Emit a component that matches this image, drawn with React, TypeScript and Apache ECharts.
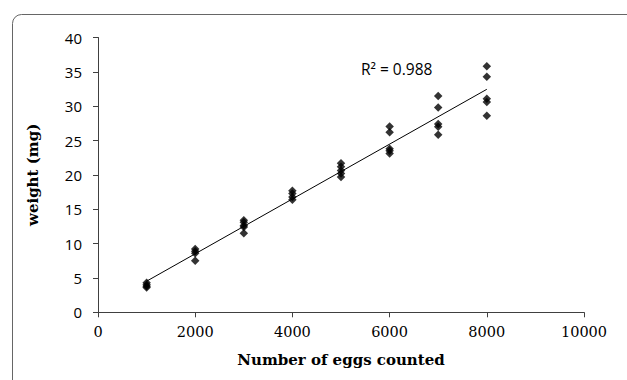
import React, { useEffect, useRef } from "react";
import * as echarts from "echarts";

const eggCounts = [1000, 2000, 3000, 4000, 5000, 6000, 7000, 8000];
const weights: number[][] = [
  [4.3, 4.0, 3.8, 3.6],
  [9.2, 8.9, 8.6, 7.5],
  [13.4, 13.1, 12.65, 12.4, 11.5],
  [17.7, 17.3, 16.8, 16.4],
  [21.7, 21.2, 20.65, 20.2, 19.7],
  [27.05, 26.2, 23.8, 23.5, 23.1],
  [31.5, 29.8, 27.4, 27.0, 25.85],
  [35.8, 34.3, 31.1, 30.6, 28.6],
];
const rSquaredLabel = "R² = 0.988";
const xTitle = "Number of eggs counted";
const yTitle = "weight (mg)";

export default function App() {
  const ref = useRef<HTMLDivElement>(null);
  useEffect(() => {
    if (!ref.current) return;
    const chart = echarts.init(ref.current, undefined, { renderer: "svg" });
    const pts: number[][] = [];
    eggCounts.forEach((x, i) => weights[i].forEach((w) => pts.push([x, w])));
    // least squares trend line
    const n = pts.length;
    const mx = pts.reduce((s, p) => s + p[0], 0) / n;
    const my = pts.reduce((s, p) => s + p[1], 0) / n;
    let sxy = 0, sxx = 0;
    pts.forEach((p) => { sxy += (p[0] - mx) * (p[1] - my); sxx += (p[0] - mx) ** 2; });
    const slope = sxy / sxx;
    const icpt = my - slope * mx;
    const x0 = eggCounts[0], x1 = eggCounts[eggCounts.length - 1];
    const trend = [[x0, icpt + slope * x0], [x1, icpt + slope * x1]];

    chart.setOption({
      animation: false,
      grid: { left: 98, right: 43, top: 37.5, bottom: 67.7 },
      xAxis: {
        type: "value", min: 0, max: 10000, interval: 2000,
        axisLine: { show: true, lineStyle: { color: "#404040" } },
        axisTick: { show: true, length: 5, lineStyle: { color: "#404040" } },
        splitLine: { show: false },
        axisLabel: {
          color: "#000", fontFamily: "DejaVu Serif", fontSize: 14.5, margin: 12,
          formatter: (v: number) => String(v),
        },
        name: xTitle, nameLocation: "middle", nameGap: 40,
        nameTextStyle: { color: "#000", fontFamily: "DejaVu Serif", fontWeight: "bold", fontSize: 15 },
      },
      yAxis: {
        type: "value", min: 0, max: 40, interval: 5,
        axisLine: { show: true, lineStyle: { color: "#404040" } },
        axisTick: { show: true, length: 5, lineStyle: { color: "#404040" } },
        splitLine: { show: false },
        axisLabel: { color: "#000", fontFamily: "Open Sans", fontSize: 15, margin: 16 },
        name: yTitle, nameLocation: "middle", nameGap: 58, nameRotate: 90,
        nameTextStyle: { color: "#000", fontFamily: "DejaVu Serif", fontWeight: "bold", fontSize: 15 },
      },
      graphic: [
        {
          type: "rect", left: 10, top: 12,
          shape: { width: 640, height: 400, r: 9 },
          style: { fill: "none", stroke: "#666", lineWidth: 1 },
          z: -10,
        },
        {
          type: "text", left: 361, top: 61,
          style: { text: rSquaredLabel, fill: "#000", font: "15.5px 'Open Sans'" },
        },
      ],
      series: [
        {
          type: "scatter", data: pts, symbol: "diamond", symbolSize: 8.5,
          itemStyle: { color: "#000" },
        },
        {
          type: "line", data: trend, symbol: "none",
          lineStyle: { color: "#000", width: 1 },
        },
      ],
    });
    return () => chart.dispose();
  }, []);
  return <div ref={ref} style={{ width: 627, height: 380, position: "absolute", left: 0, top: 0 }} />;
}
